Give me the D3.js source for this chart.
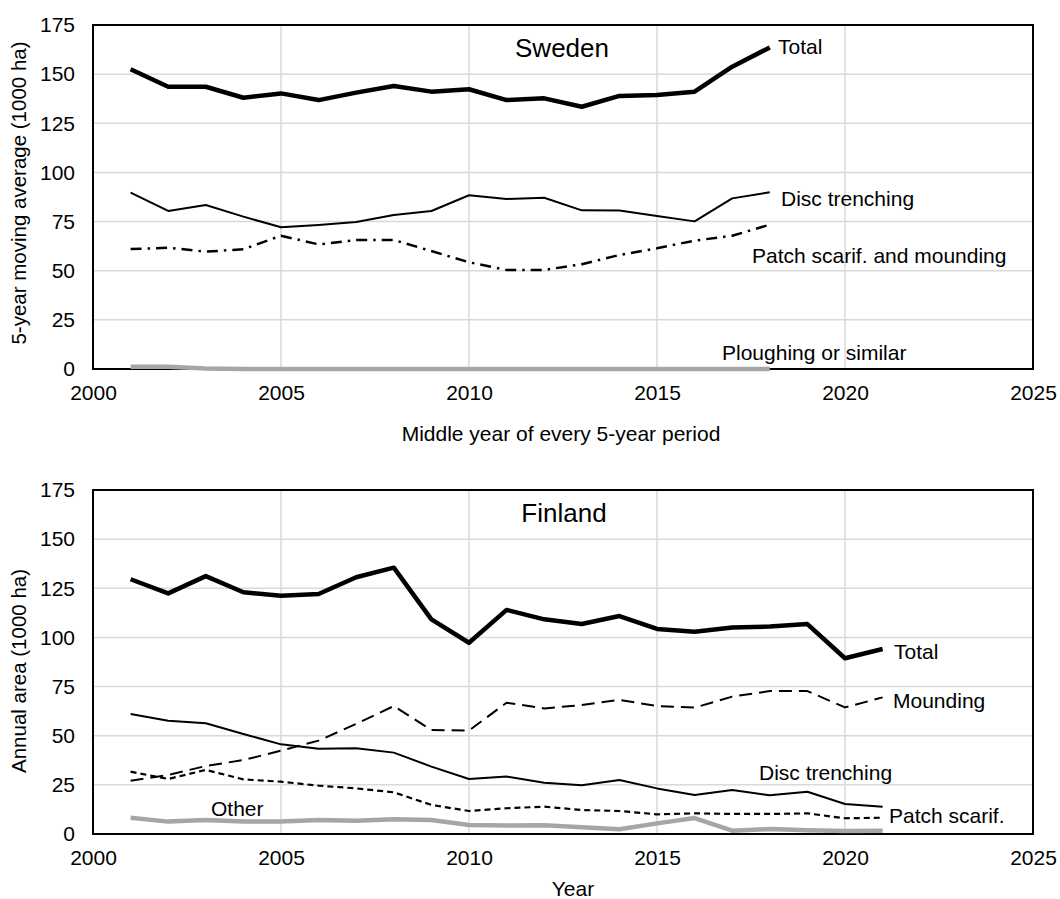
<!DOCTYPE html>
<html>
<head>
<meta charset="utf-8">
<script src="https://cdn.jsdelivr.net/npm/d3@7"></script>
<style>
    body { margin: 0; background: #fff; }
    svg text { font-family: "Liberation Sans", Arial, sans-serif; fill: #000; }
</style>
</head>
<body>
<svg id="chart" width="1060" height="899"></svg>
<script>
// Sweden: 5-year moving average, middle year of each period
var sweYears = d3.range(2001, 2019);
var sweTotal = [152.5, 143.6, 143.6, 138.0, 140.2, 136.8, 140.6, 144.0, 141.1, 142.3, 136.8, 137.7, 133.4, 138.9, 139.4, 141.1, 153.8, 163.6];
var sweDisc = [89.7, 80.4, 83.4, 77.5, 72.1, 73.3, 74.8, 78.3, 80.4, 88.4, 86.5, 87.1, 80.7, 80.6, 77.8, 75.1, 86.8, 89.9];
var swePatch = [61.0, 61.7, 59.7, 60.9, 67.8, 63.4, 65.6, 65.6, 60.0, 54.3, 50.4, 50.4, 53.3, 58.0, 61.4, 65.3, 67.8, 73.4];
var swePlough = [1.2, 1.2, 0.2, 0, 0, 0, 0, 0, 0, 0, 0, 0, 0, 0, 0, 0, 0, 0];

// Finland: annual area
var finYears = d3.range(2001, 2022);
var finTotal = [129.6, 122.4, 131.2, 123.0, 121.2, 122.1, 130.6, 135.5, 109.2, 97.3, 114.0, 109.2, 106.8, 110.9, 104.3, 102.9, 105.1, 105.5, 106.8, 89.4, 94.1];
var finMound = [27.1, 30.0, 34.6, 37.6, 42.4, 47.5, 56.0, 65.1, 52.9, 52.6, 66.8, 63.9, 65.6, 68.2, 65.1, 64.3, 69.9, 72.7, 72.7, 64.4, 69.5];
var finDisc = [61.0, 57.6, 56.3, 50.9, 45.6, 43.4, 43.6, 41.4, 34.3, 28.0, 29.2, 26.1, 24.8, 27.5, 23.2, 19.8, 22.4, 19.7, 21.5, 15.3, 13.9];
var finPatch = [31.7, 28.0, 32.6, 27.8, 26.6, 24.6, 23.2, 21.2, 14.8, 11.7, 13.1, 13.9, 12.2, 11.7, 10.0, 10.5, 10.2, 10.2, 10.5, 8.0, 8.3];
var finOther = [8.3, 6.3, 7.1, 6.3, 6.3, 7.1, 6.8, 7.5, 7.1, 4.6, 4.3, 4.4, 3.4, 2.4, 5.4, 8.1, 1.7, 2.5, 1.9, 1.5, 1.7];

var xTicks = [2000, 2005, 2010, 2015, 2020, 2025];
var yTicks = [0, 25, 50, 75, 100, 125, 150, 175];

var svg = d3.select("#chart");

var left = 93, right = 1033;
var fontSize = 21;
var x = d3.scaleLinear().domain([2000, 2025]).range([left, right]);

function drawPanel(cfg) {
    var y = d3.scaleLinear().domain([0, 175]).range([cfg.bottom, cfg.top]);
    var g = svg.append("g").attr("class", "panel");

    // grid
    g.append("g").selectAll("line.gy").data(yTicks.slice(1, -1)).enter().append("line")
        .attr("x1", left).attr("x2", right)
        .attr("y1", function (d) { return y(d); }).attr("y2", function (d) { return y(d); })
        .attr("stroke", "#d9d9d9").attr("stroke-width", 1.5);
    g.append("g").selectAll("line.gx").data(xTicks.slice(1, -1)).enter().append("line")
        .attr("y1", cfg.top).attr("y2", cfg.bottom)
        .attr("x1", function (d) { return x(d); }).attr("x2", function (d) { return x(d); })
        .attr("stroke", "#d9d9d9").attr("stroke-width", 1.5);

    // frame
    g.append("rect")
        .attr("x", left).attr("y", cfg.top)
        .attr("width", right - left).attr("height", cfg.bottom - cfg.top)
        .attr("fill", "none").attr("stroke", "#000").attr("stroke-width", 2);

    // axes (labels only)
    var yAxis = d3.axisLeft(y).tickValues(yTicks).tickSize(0).tickPadding(18);
    var xAxis = d3.axisBottom(x).tickValues(xTicks).tickSize(0).tickPadding(16).tickFormat(d3.format("d"));
    var ya = g.append("g").attr("transform", "translate(" + left + ",0)").call(yAxis);
    var xa = g.append("g").attr("transform", "translate(0," + cfg.bottom + ")").call(xAxis);
    [ya, xa].forEach(function (a) {
        a.select(".domain").remove();
        a.selectAll("text").attr("font-size", fontSize).attr("font-family", "Liberation Sans, Arial, sans-serif").attr("fill", "#000");
    });

    // axis titles
    g.append("text")
        .attr("transform", "translate(" + 26 + "," + cfg.yTitleY + ") rotate(-90)")
        .attr("text-anchor", "middle").attr("font-size", 20.5)
        .text(cfg.yTitle);
    g.append("text")
        .attr("x", cfg.xTitleX).attr("y", cfg.xTitleBase)
        .attr("text-anchor", "middle").attr("font-size", fontSize)
        .text(cfg.xTitle);

    // series
    cfg.series.forEach(function (s) {
        var line = d3.line()
            .x(function (d, i) { return x(cfg.years[i]); })
            .y(function (d) { return y(d); });
        g.append("path")
            .datum(s.values)
            .attr("d", line)
            .attr("fill", "none")
            .attr("stroke", s.color)
            .attr("stroke-width", s.width)
            .attr("stroke-dasharray", s.dash || null)
            .attr("stroke-linejoin", "round");
    });

    // title + labels
    g.append("text").attr("x", cfg.nameX).attr("y", cfg.nameY)
        .attr("text-anchor", "middle").attr("font-size", 26).text(cfg.name);
    cfg.labels.forEach(function (l) {
        g.append("text").attr("x", l.x).attr("y", l.y)
            .attr("font-size", fontSize).text(l.text);
    });
}

drawPanel({
    top: 25, bottom: 369,
    years: sweYears,
    name: "Sweden", nameX: 562, nameY: 57,
    yTitle: "5-year moving average (1000 ha)", yTitleY: 193,
    xTitle: "Middle year of every 5-year period", xTitleX: 561, xTitleBase: 441,
    series: [
        {values: swePlough, color: "#a6a6a6", width: 4.5},
        {values: swePatch, color: "#000", width: 2.5, dash: "11,6,2.5,6"},
        {values: sweDisc, color: "#000", width: 2},
        {values: sweTotal, color: "#000", width: 4.5}
    ],
    labels: [
        {text: "Total", x: 778, y: 54},
        {text: "Disc trenching", x: 781, y: 206},
        {text: "Patch scarif. and mounding", x: 752, y: 263},
        {text: "Ploughing or similar", x: 722, y: 360}
    ]
});

drawPanel({
    top: 490, bottom: 834,
    years: finYears,
    name: "Finland", nameX: 564, nameY: 522,
    yTitle: "Annual area (1000 ha)", yTitleY: 671,
    xTitle: "Year", xTitleX: 573, xTitleBase: 896,
    series: [
        {values: finOther, color: "#a6a6a6", width: 4.5},
        {values: finPatch, color: "#000", width: 2.2, dash: "6,4"},
        {values: finDisc, color: "#000", width: 2},
        {values: finMound, color: "#000", width: 2, dash: "13,7"},
        {values: finTotal, color: "#000", width: 4.5}
    ],
    labels: [
        {text: "Total", x: 894, y: 659},
        {text: "Mounding", x: 893, y: 708},
        {text: "Disc trenching", x: 759, y: 780},
        {text: "Patch scarif.", x: 889, y: 823},
        {text: "Other", x: 211, y: 816}
    ]
});
</script>
</body>
</html>
